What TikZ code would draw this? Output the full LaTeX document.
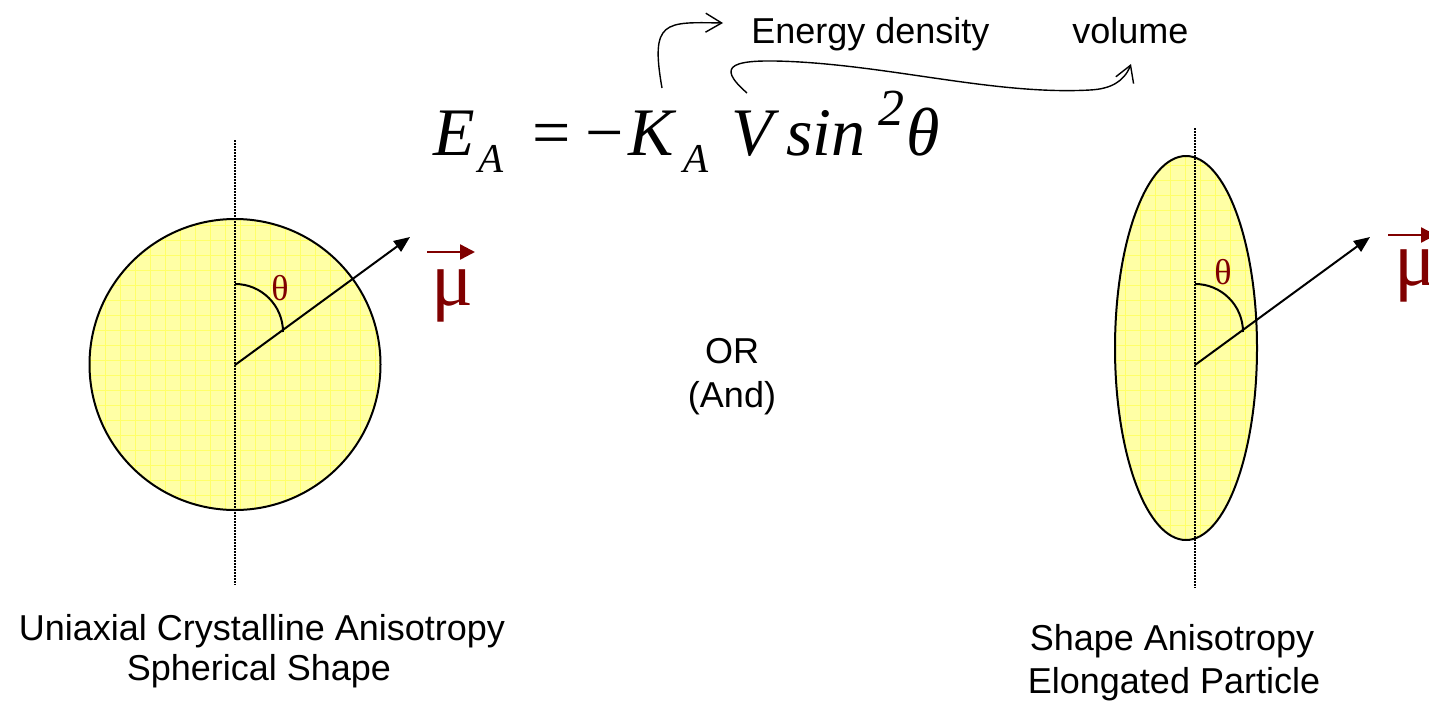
\documentclass[tikz,border=0pt]{standalone}
\usepackage{fontspec}
\setmainfont{Liberation Sans}
\newfontfamily\timesfont{Liberation Serif}
\usetikzlibrary{arrows.meta}
\definecolor{darkred}{RGB}{128,0,0}
\definecolor{paleyellow}{RGB}{255,255,165}
\definecolor{gridyellow}{RGB}{255,255,105}
\newcommand{\drawmoment}{\draw[line width=1pt, -{Triangle[length=8pt,width=6.5pt]}]}
\newcommand{\drawhint}{\draw[line width=0.7pt, -{Straight Barb[length=8pt,width=9.5pt]}]}
\newcommand{\vecmu}{\draw[darkred, line width=1.2pt, -{Triangle[length=7.5pt,width=7.5pt]}]}

\begin{document}
\begin{tikzpicture}[x=0.5pt, y=-0.5pt,
    label/.style={font=\fontsize{18}{21}\selectfont, inner sep=0pt},
    angle/.style={font=\timesfont\fontsize{18}{18}\selectfont, text=darkred, inner sep=0pt},
    moment/.style={font=\timesfont\fontsize{39}{39}\selectfont, text=darkred, inner sep=0pt},
    eqtext/.style={font=\timesfont\itshape\fontsize{34}{34}\selectfont, inner sep=0pt},
    axis/.style={line width=0.75pt, dash pattern=on 0.75pt off 0.75pt}]
    \useasboundingbox (0,0) rectangle (1429,702);

    % Draw particles
    \begin{scope}
        \clip (235,364.5) circle[radius=72.75pt];
        \fill[paleyellow] (90,219) rectangle (381,510);
        \draw[gridyellow, line width=0.4pt, step=7.5pt] (90,219) grid (381,510);
    \end{scope}
    \draw[line width=1pt] (235,364.5) circle[radius=72.75pt];
    \begin{scope}
        \clip (1186,348) ellipse[x radius=35.5pt, y radius=96pt];
        \fill[paleyellow] (1114,156) rectangle (1258,540);
        \draw[gridyellow, line width=0.4pt, step=7.5pt] (1114,156) grid (1258,540);
    \end{scope}
    \draw[line width=1pt] (1186,348) ellipse[x radius=35.5pt, y radius=96pt];

    % Draw axes
    \coordinate (top1) at (235,140);
    \coordinate (bot1) at (235,585);
    \coordinate (top2) at (1195,128);
    \coordinate (bot2) at (1195,588);
    \draw[axis] (top1) -- (bot1);
    \draw[axis] (top2) -- (bot2);

    % Draw moments
    \coordinate (c1) at (235,365);
    \coordinate (m1) at (410,237);
    \coordinate (c2) at (1195,365);
    \coordinate (m2) at (1370,237);
    \drawmoment (c1) -- (m1);
    \drawmoment (c2) -- (m2);

    \coordinate (a1) at (235,284);
    \coordinate (a2) at (1195,284);
    \draw[line width=1pt] (a1) arc[start angle=90, end angle=0, radius=24pt];
    \draw[line width=1pt] (a2) arc[start angle=90, end angle=0, radius=24pt];
    \node[angle] (theta1) at (280,288) {θ};
    \node[angle] (theta2) at (1223,272) {θ};

    \node[moment, anchor=base] (mu1) at (452,305) {μ};
    \node[moment, anchor=base] (mu2) at (1415,285) {μ};
    \coordinate (v1s) at (427,252);
    \coordinate (v1e) at (475,252);
    \coordinate (v2s) at (1388,235);
    \coordinate (v2e) at (1436,235);
    \vecmu (v1s) -- (v1e);
    \vecmu (v2s) -- (v2e);

    % Draw equation
    \node[eqtext, anchor=base west] (energyeq) at (433,155)
        {E\kern1.75pt\raisebox{-8.5pt}{\fontsize{20.5}{20}\selectfont A}\kern14.5pt{\upshape =}\kern7.3pt{\upshape −}\kern2.3pt K\kern4.8pt\raisebox{-8.5pt}{\fontsize{20.5}{20}\selectfont A}\kern11.5pt V\kern6.75pt sin\kern6.3pt\raisebox{15pt}{\fontsize{26}{26}\selectfont 2}\kern1pt θ};

    \node[label, anchor=base west] (density) at (751,43) {Energy density};
    \node[label, anchor=base west] (volume) at (1072,43) {volume};
    \coordinate (kstart) at (662,88);
    \coordinate (ktip) at (723,23);
    \coordinate (vstart) at (747,93);
    \coordinate (vtip) at (1131,64);
    \drawhint (kstart) .. controls (650,20) and (665,22) .. (ktip);
    \drawhint (vstart) .. controls (715,65) and (730,58) .. (800,62)
        .. controls (900,68) and (1000,95) .. (1090,90)
        .. controls (1110,89) and (1124,82) .. (vtip);

    % Draw captions
    \node[label, anchor=base] (or) at (732,363) {OR};
    \node[label, anchor=base] (and) at (732,407) {(And)};
    \node[label, anchor=base] (uniaxial) at (262,640) {Uniaxial Crystalline Anisotropy};
    \node[label, anchor=base] (spherical) at (259,680) {Spherical Shape};
    \node[label, anchor=base] (shape) at (1172,650) {Shape Anisotropy};
    \node[label, anchor=base] (elongated) at (1174,693) {Elongated Particle};
\end{tikzpicture}
\end{document}
